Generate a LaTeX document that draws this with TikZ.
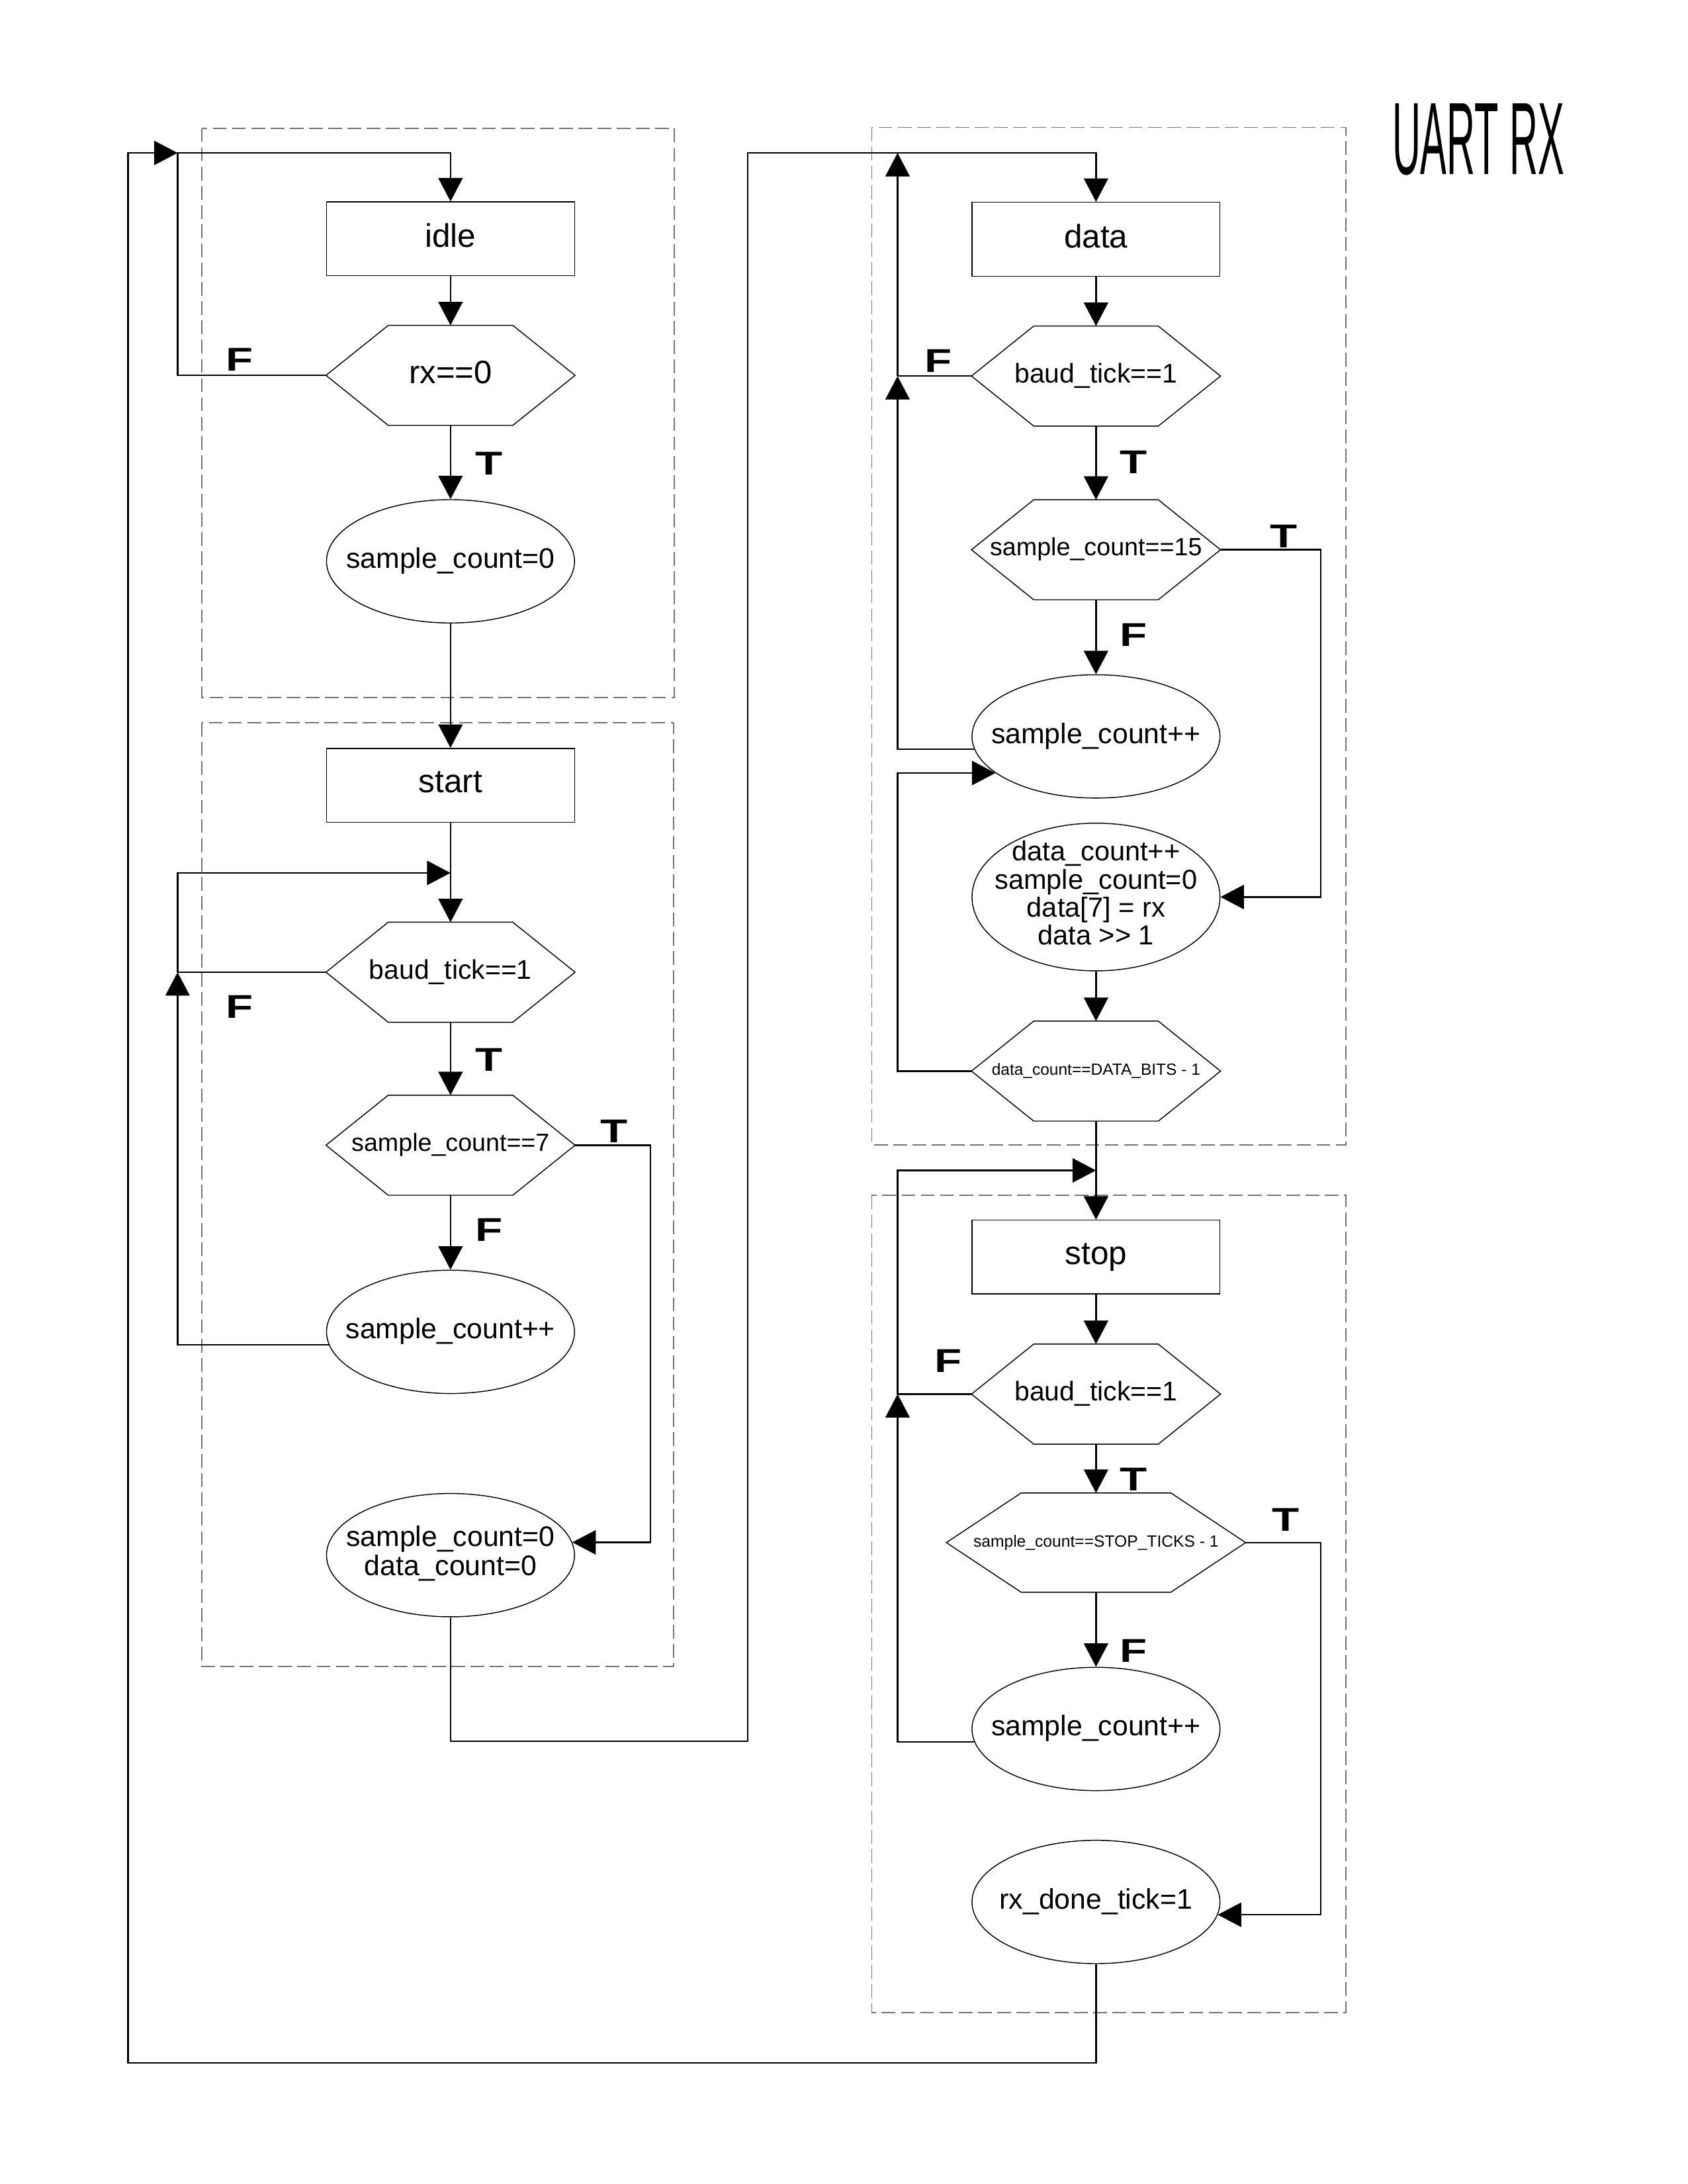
\documentclass[tikz,border=0pt]{standalone}
\usepackage{graphicx}
\usepackage{fontspec}
\setmainfont{Liberation Sans}
\usetikzlibrary{arrows.meta,shapes.geometric,calc}
\newcommand\fsz[1]{\fontsize{#1}{#1}\selectfont}
\newcommand\mltext[3]{\makebox[0pt]{\fontsize{#1}{#2}\selectfont\raisebox{-2.5pt}[0pt][0pt]{$\vcenter{\hbox{\begin{tabular}{@{}c@{}}#3\end{tabular}}}$}}}
\tikzset{
  shp/.style={line width=0.35pt},
  box/.style={shp, draw, rectangle, minimum width=3.1708cm, minimum height=0.9441cm, inner sep=0pt, text depth=2.4pt, font=\fsz{11.9}},
  hexn/.style={rectangle, minimum width=3.1708cm, minimum height=1.2648cm, inner sep=0pt, text depth=2.2pt},
  ell/.style={shp, draw, ellipse, minimum width=3.1708cm, minimum height=1.5765cm, inner sep=0pt, text depth=2.4pt, font=\fsz{10.3}},
  conn/.style={line width=0.6pt},
  arr/.style={conn, -{Triangle[width=0.31cm,length=0.30cm]}},
  grp/.style={draw=black!55, line width=0.45pt, dash pattern=on 5pt off 2pt},
  lab/.style={inner sep=0pt, font=\fsz{12}\bfseries},
}
\begin{document}
\begin{tikzpicture}[x=0.0178135cm, y=-0.0178135cm]
\useasboundingbox (0,0) rectangle (1212,1568);
% group frames
\draw[grp] (145,92) rectangle (484,501);
\draw[grp] (145,519) rectangle (483.5,1196.5);
\draw[grp] (626,91.5) rectangle (966.5,822.2);
\draw[grp] (626,858) rectangle (966.5,1445);
% title
\node[inner sep=0pt] (title) at (1061.5,100.3) {\scalebox{0.383}[1]{\fsz{37.4}UART RX}};
% left column
\node[box] (idle) at (323.5,171.5) {idle};
\node[hexn, font=\fsz{11.8}] (rx) at (323.5,269.5) {rx==0};
\node[ell] (sc0) at (323.5,403) {\makebox[0pt]{sample\_count=0}};
\node[box] (start) at (323.5,563.8) {start};
\node[hexn, font=\fsz{9.85}] (bt1) at (323.5,698) {baud\_tick==1};
\node[hexn, font=\fsz{9.06}] (sc7) at (323.5,822.2) {sample\_count==7};
\node[ell] (sci1) at (323.5,956.2) {\makebox[0pt]{sample\_count++}};
\node[ell, text depth=0pt] (scdc) at (323.5,1116.5) {\mltext{10.3}{10.6}{sample\_count=0\\data\_count=0}};
% right column
\node[box] (data) at (787,171.8) {data};
\node[hexn, font=\fsz{9.85}] (bt2) at (787,270) {baud\_tick==1};
\node[hexn, font=\fsz{9.07}] (sc15) at (787,394.7) {sample\_count==15};
\node[ell] (sci2) at (787,528.7) {\makebox[0pt]{sample\_count++}};
\node[ell, text depth=0pt, minimum height=1.8882cm] (dcpp) at (787,644) {\mltext{10}{9.75}{data\_count++\\sample\_count=0\\data[7] = rx\\data >\kern0pt> 1}};
\node[hexn, text depth=1.2pt, font=\fsz{5.9}] (dbits) at (787,769) {data\_count==DATA\_BITS - 1};
\node[box] (stop) at (787,902.5) {stop};
\node[hexn, font=\fsz{9.85}] (bt3) at (787,1000.9) {baud\_tick==1};
\node[hexn, text depth=1pt, minimum width=3.8121cm, minimum height=1.2559cm, font=\fsz{5.93}] (stk) at (787,1107.5) {sample\_count==STOP\_TICKS - 1};
\node[ell] (sci3) at (787,1241.3) {\makebox[0pt]{sample\_count++}};
\node[ell] (rxd) at (787,1365.5) {\makebox[0pt]{rx\_done\_tick=1}};
% hexagon outlines
\foreach \n in {rx,bt1,sc7,bt2,sc15,dbits,bt3,stk}
  \draw[shp] (\n.west) -- ($(\n.north west)!.25!(\n.north east)$) -- ($(\n.north west)!.75!(\n.north east)$) -- (\n.east)
    -- ($(\n.south west)!.75!(\n.south east)$) -- ($(\n.south west)!.25!(\n.south east)$) -- cycle;
% route points
\coordinate (cTop) at (127.5,109.8);
\coordinate (cOut) at (92,1481);
\coordinate (cLoopS) at (127.5,626.7);
\coordinate (cJoinS) at (323.5,626.7);
\coordinate (jS) at (bt1.west -| cLoopS);
\coordinate (cT7) at (467,822.2);
\coordinate (cR1) at (537,1250);
\coordinate (cR2) at (537,109.8);
\coordinate (cLoopD) at (644.5,109.8);
\coordinate (jD) at (bt2.west -| cLoopD);
\coordinate (cT15) at (948.5,394.7);
\coordinate (cLoopP) at (644.5,840.3);
\coordinate (cJoinP) at (787,840.3);
\coordinate (jP) at (bt3.west -| cLoopP);
\coordinate (cTs) at (948.5,1107.5);
% connectors: idle
\draw[arr] (idle) -- (rx);
\draw[arr] (rx.west) -| (cTop) -| (idle.north);
\draw[arr] (rxd.south) |- (cOut) |- (cTop);
\draw[arr] (rx) -- (sc0);
\draw[arr] (sc0) -- (start);
% start
\draw[arr] (start) -- (bt1);
\draw[conn] (bt1.west) -- (jS);
\draw[arr] (sci1.186) -| (jS);
\draw[arr] (jS) -- (cLoopS) -- (cJoinS);
\draw[arr] (bt1) -- (sc7);
\draw[arr] (sc7) -- (sci1);
\draw[arr] (sc7.east) -- (cT7) |- (scdc.6);
\draw[arr] (scdc.south) |- (cR1) -- (cR2) -| (data.north);
% data
\draw[arr] (data) -- (bt2);
\draw[conn] (bt2.west) -- (jD);
\draw[arr] (sci2.186) -| (jD);
\draw[arr] (jD) -- (cLoopD);
\draw[arr] (bt2) -- (sc15);
\draw[arr] (sc15) -- (sci2);
\draw[arr] (sc15.east) -- (cT15) |- (dcpp.east);
\draw[arr] (dcpp) -- (dbits);
\draw[arr] (dbits.west) -| (sci2.200 -| cLoopD) -- (sci2.200);
% stop
\draw[arr] (dbits) -- (stop);
\draw[conn] (bt3.west) -- (jP);
\draw[arr] (sci3.186) -| (jP);
\draw[arr] (jP) -- (cLoopP) -- (cJoinP);
\draw[arr] (stop) -- (bt3);
\draw[arr] (bt3) -- (stk);
\draw[arr] (stk) -- (sci3);
\draw[arr] (stk.east) -- (cTs) |- (rxd.354);
% T / F labels
\node[lab] (lF1) at (172,258) {\scalebox{1.35}[1]{F}};
\node[lab] (lT1) at (351,333) {\scalebox{1.35}[1]{T}};
\node[lab] (lF2) at (172,723) {\scalebox{1.35}[1]{F}};
\node[lab] (lT2) at (351,761) {\scalebox{1.35}[1]{T}};
\node[lab] (lF3) at (351,883) {\scalebox{1.35}[1]{F}};
\node[lab] (lT3) at (441,812) {\scalebox{1.35}[1]{T}};
\node[lab] (lF4) at (674,259) {\scalebox{1.35}[1]{F}};
\node[lab] (lT4) at (814,332) {\scalebox{1.35}[1]{T}};
\node[lab] (lT5) at (921.6,385) {\scalebox{1.35}[1]{T}};
\node[lab] (lF5) at (814,456) {\scalebox{1.35}[1]{F}};
\node[lab] (lF6) at (681,977) {\scalebox{1.35}[1]{F}};
\node[lab] (lT6) at (814,1062) {\scalebox{1.35}[1]{T}};
\node[lab] (lT7) at (923,1091) {\scalebox{1.35}[1]{T}};
\node[lab] (lF7) at (814,1185) {\scalebox{1.35}[1]{F}};
\end{tikzpicture}
\end{document}
